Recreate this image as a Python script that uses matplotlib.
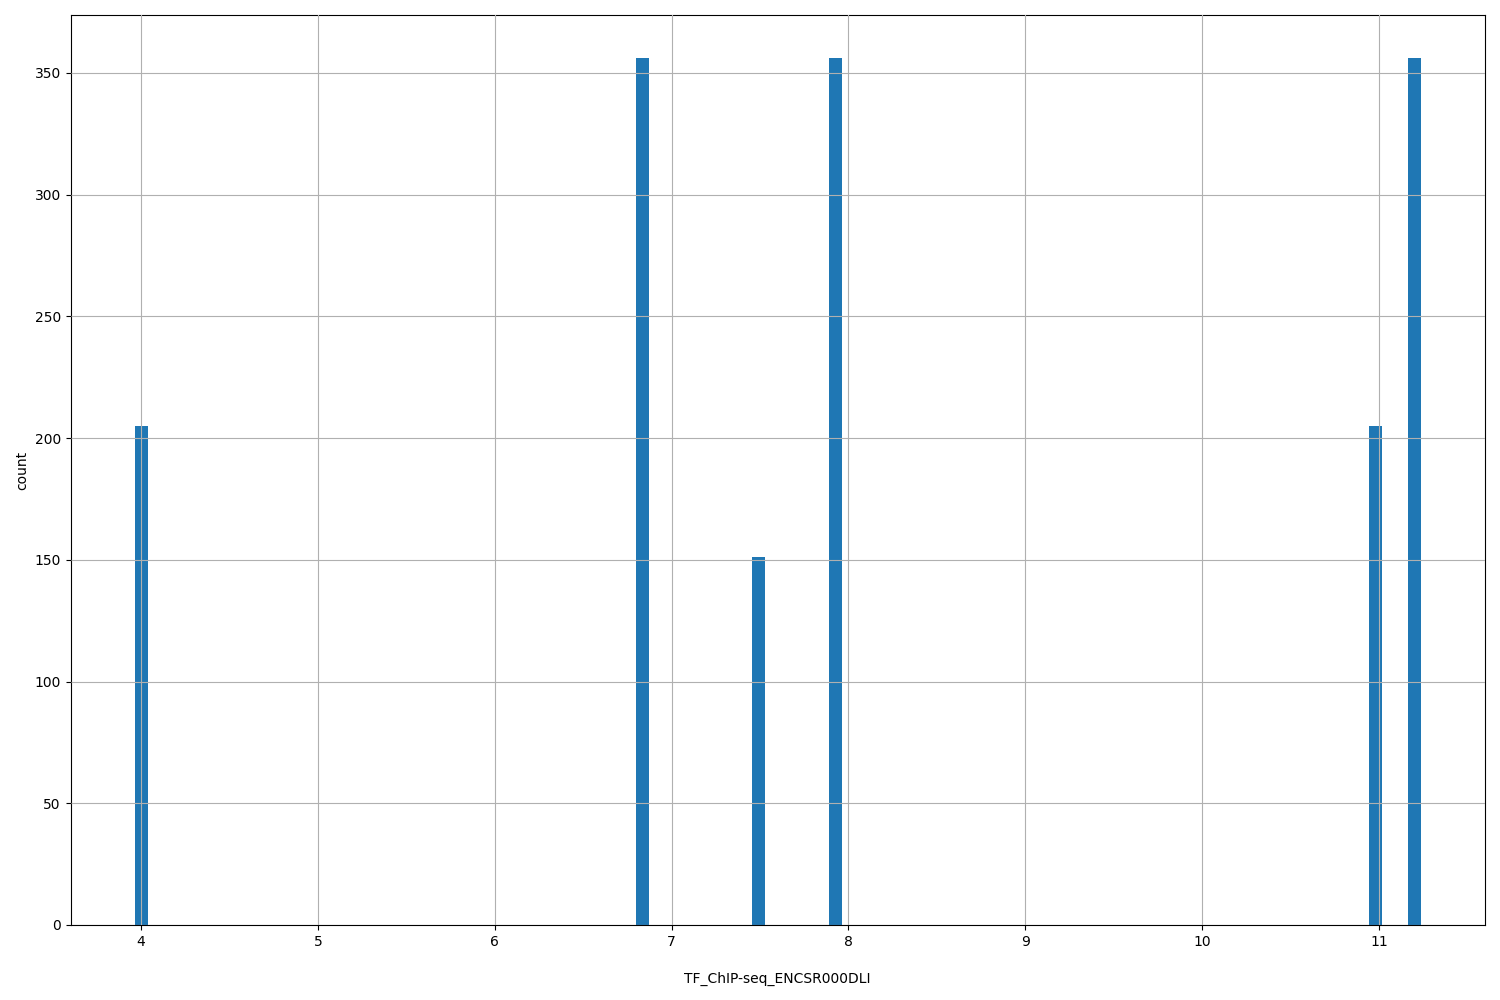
import matplotlib
matplotlib.use("Agg")
import matplotlib.pyplot as plt

values = [3.964, 6.84, 7.49, 7.92, 10.99, 11.236]
counts = [205, 356, 151, 356, 205, 356]
xlabel = "TF_ChIP-seq_ENCSR000DLI"
ylabel = "count"

fig, ax = plt.subplots(figsize=(15, 10), dpi=100)
ax.hist(values, bins=100, weights=counts, color="#1f77b4")
ax.grid(True)
ax.set_axisbelow(False)
ax.set_xlabel(xlabel, labelpad=17)
ax.set_ylabel(ylabel)
fig.subplots_adjust(left=0.047, right=0.99, top=0.985, bottom=0.075)
fig.savefig("out.png")
